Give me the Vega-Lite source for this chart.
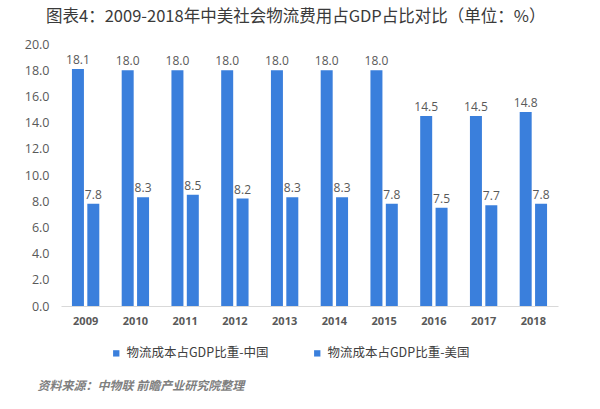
{
  "$schema": "https://vega.github.io/schema/vega-lite/v6.json",
  "width": 497,
  "height": 262,
  "autosize": {"type": "none"},
  "padding": {"left": 61, "top": 44, "right": 42, "bottom": 103},
  "background": "white",
  "config": {"view": {"stroke": null}, "font": "Noto Sans CJK SC"},
  "title": {
    "text": "图表4：2009-2018年中美社会物流费用占GDP占比对比（单位：%）",
    "anchor": "start",
    "frame": "group",
    "dx": -15,
    "offset": 13,
    "fontSize": 16.5,
    "fontWeight": "normal",
    "color": "#3a3a3a",
    "font": "Noto Sans CJK SC"
  },
  "data": {
    "values": [
      {"year": "2009", "series": "物流成本占GDP比重-中国", "value": 18.1},
      {"year": "2010", "series": "物流成本占GDP比重-中国", "value": 18.0},
      {"year": "2011", "series": "物流成本占GDP比重-中国", "value": 18.0},
      {"year": "2012", "series": "物流成本占GDP比重-中国", "value": 18.0},
      {"year": "2013", "series": "物流成本占GDP比重-中国", "value": 18.0},
      {"year": "2014", "series": "物流成本占GDP比重-中国", "value": 18.0},
      {"year": "2015", "series": "物流成本占GDP比重-中国", "value": 18.0},
      {"year": "2016", "series": "物流成本占GDP比重-中国", "value": 14.5},
      {"year": "2017", "series": "物流成本占GDP比重-中国", "value": 14.5},
      {"year": "2018", "series": "物流成本占GDP比重-中国", "value": 14.8},
      {"year": "2009", "series": "物流成本占GDP比重-美国", "value": 7.8},
      {"year": "2010", "series": "物流成本占GDP比重-美国", "value": 8.3},
      {"year": "2011", "series": "物流成本占GDP比重-美国", "value": 8.5},
      {"year": "2012", "series": "物流成本占GDP比重-美国", "value": 8.2},
      {"year": "2013", "series": "物流成本占GDP比重-美国", "value": 8.3},
      {"year": "2014", "series": "物流成本占GDP比重-美国", "value": 8.3},
      {"year": "2015", "series": "物流成本占GDP比重-美国", "value": 7.8},
      {"year": "2016", "series": "物流成本占GDP比重-美国", "value": 7.5},
      {"year": "2017", "series": "物流成本占GDP比重-美国", "value": 7.7},
      {"year": "2018", "series": "物流成本占GDP比重-美国", "value": 7.8}
    ]
  },
  "encoding": {
    "x": {
      "field": "year",
      "type": "nominal",
      "scale": {"paddingInner": 0.45, "paddingOuter": 0.22},
      "axis": {
        "labelAngle": 0,
        "labelFontSize": 11,
        "labelColor": "#595959",
        "labelPadding": 9,
        "labelFont": "Open Sans",
        "labelFontWeight": "bold",
        "ticks": false,
        "domainColor": "#d9d9d9",
        "title": "资料来源：中物联 前瞻产业研究院整理",
        "titleAnchor": "start",
        "titleAlign": "left",
        "titleX": -24,
        "titleY": 74,
        "titleFontSize": 12,
        "titleFontWeight": "bold",
        "titleColor": "#7f7f7f",
        "titleFontStyle": "italic"
      }
    },
    "xOffset": {"field": "series", "type": "nominal", "scale": {"paddingInner": 0.22}},
    "y": {
      "field": "value",
      "type": "quantitative",
      "scale": {"domain": [0, 20]},
      "axis": {
        "values": [0, 2, 4, 6, 8, 10, 12, 14, 16, 18, 20],
        "format": ".1f",
        "grid": false,
        "domain": false,
        "ticks": false,
        "labelFontSize": 12.5,
        "labelColor": "#595959",
        "labelFont": "Open Sans",
        "labelPadding": 12,
        "title": null
      }
    }
  },
  "layer": [
    {
      "mark": {"type": "bar", "color": "#3a7fdc"},
      "encoding": {
        "color": {
          "field": "series",
          "type": "nominal",
          "scale": {"range": ["#3a7fdc", "#3a7fdc"]},
          "legend": {
            "orient": "none",
            "legendX": 49,
            "legendY": 303,
            "direction": "horizontal",
            "title": null,
            "symbolType": "square",
            "symbolSize": 40,
            "labelFontSize": 12.5,
            "labelColor": "#404040",
            "columnPadding": 42,
            "labelLimit": 300
          }
        }
      }
    },
    {
      "mark": {"type": "text", "dy": -9, "fontSize": 12, "color": "#595959", "font": "Open Sans"},
      "encoding": {
        "text": {"field": "value", "type": "quantitative", "format": ".1f"}
      }
    }
  ]
}
